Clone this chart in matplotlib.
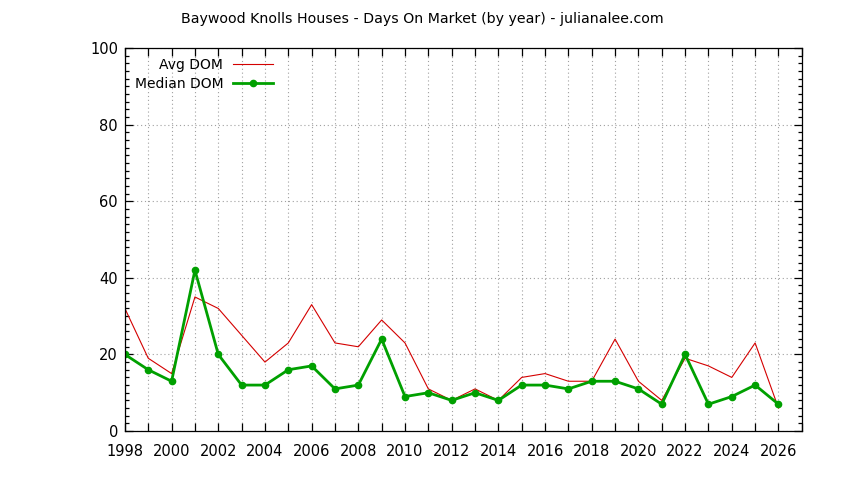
import numpy as np
import matplotlib
matplotlib.use('Agg')
from matplotlib import pyplot as plt
from matplotlib.ticker import MultipleLocator

# data
years = list(range(1998, 2027))
avg_dom = [32, 19, 15, 35, 32, 25, 18, 23, 33, 23, 22, 29, 23, 11, 8,
           11, 8, 14, 15, 13, 13, 24, 13, 8, 19, 17, 14, 23, 6]
median_dom = [20, 16, 13, 42, 20, 12, 12, 16, 17, 11, 12, 24, 9, 10, 8,
              10, 8, 12, 12, 11, 13, 13, 11, 7, 20, 7, 9, 12, 7]
xtick_labels = [str(y) if y % 2 == 0 else '' for y in range(1998, 2028)]

plt.rcParams['font.family'] = ['DejaVu Sans']
plt.rcParams['font.size'] = 10

fig = plt.figure(figsize=(8.44, 4.8), dpi=100)
ax = fig.add_axes([0.148, 0.102, 0.802, 0.798])

ax.plot(years, avg_dom, color='#d40000', lw=0.8, label='Avg DOM')
ax.plot(years, median_dom, color='#00a000', lw=2.0, marker='o', ms=4.5,
        label='Median DOM')

ax.set_xlim(1998, 2027)
ax.set_ylim(0, 100)
ax.set_xticks(range(1998, 2028))
ax.set_xticklabels(xtick_labels)
ax.yaxis.set_major_locator(MultipleLocator(20))
ax.yaxis.set_minor_locator(MultipleLocator(2))
ax.tick_params(which='both', direction='in', top=True, right=True,
               labelsize=10.5, width=0.9)
ax.tick_params(which='major', length=6)
ax.tick_params(which='minor', length=3)
ax.tick_params(axis='x', pad=9)
ax.tick_params(axis='y', pad=5)
ax.grid(True, which='major', color='#a0a0a0', ls=(0, (1, 2.5)), lw=0.8)
for s in ax.spines.values():
    s.set_linewidth(0.9)

ax.legend(loc='upper left', frameon=False, markerfirst=False,
          fontsize=10, handlelength=2.9, handletextpad=0.7,
          borderaxespad=0.3, labelspacing=0.4,
          bbox_to_anchor=(0.0, 1.0))

fig.suptitle('Baywood Knolls Houses - Days On Market (by year) - julianalee.com',
             x=0.5, y=0.975, fontsize=10.2)

fig.savefig('out.png', dpi=100)
